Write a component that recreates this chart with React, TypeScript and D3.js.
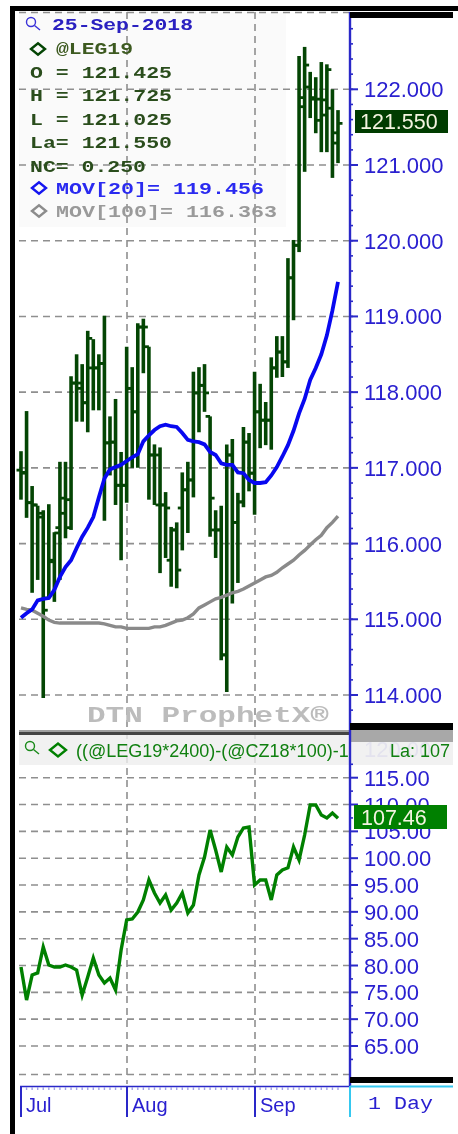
import React from "react";
import * as d3 from "d3";

const opens = [116.97,116.94,116.54,116.51,116.35,115.28,115.76,116.21,116.40,116.58,118.12,118.05,117.86,118.32,118.32,118.38,117.33,117.34,116.77,116.77,118.05,117.74,118.86,118.60,117.17,116.51,116.51,115.78,116.18,116.47,116.71,116.84,117.99,118.09,117.68,116.18,116.18,114.53,117.17,116.28,116.55,117.34,116.93,117.74,117.63,117.63,118.32,118.53,118.40,119.51,119.94,121.77,122.03,121.87,121.59,121.66,121.75,121.425];
const highs = [117.22,117.75,116.76,116.50,116.44,116.52,116.15,117.08,117.08,118.21,118.50,118.37,118.81,118.70,118.50,119.01,117.68,117.91,117.21,118.60,118.33,118.91,118.97,118.60,117.31,117.27,116.68,116.22,116.28,116.94,117.08,118.27,118.33,118.37,117.68,116.44,116.50,117.31,117.38,116.67,117.54,117.46,118.27,118.11,117.87,118.46,118.74,118.74,119.77,120.01,122.44,122.56,122.23,122.16,122.36,122.33,122.00,121.725];
const lows = [116.58,116.34,115.35,115.52,113.96,115.28,115.23,115.52,116.07,116.18,117.61,117.61,117.47,117.76,117.76,116.30,116.90,116.51,115.78,116.54,117.00,117.00,118.25,116.58,116.51,115.61,115.81,115.43,115.41,115.91,116.14,116.61,117.47,117.74,116.09,115.81,114.46,114.04,115.21,115.48,116.48,116.69,116.38,117.26,117.30,117.24,118.19,118.20,118.32,118.95,119.85,120.91,121.62,121.42,121.17,121.17,120.83,121.025];
const closes = [116.93,116.54,116.51,116.40,115.12,115.78,116.14,116.60,116.21,118.12,118.12,117.86,118.71,118.32,118.38,117.33,117.34,116.77,116.77,118.05,117.74,118.86,118.86,117.17,117.17,116.51,116.47,116.18,115.65,116.71,116.84,117.99,118.09,117.99,116.60,116.18,114.53,117.17,116.28,116.55,117.34,116.93,117.74,117.63,117.63,118.32,118.53,118.40,119.51,119.94,121.89,122.32,121.89,121.87,121.86,122.26,121.29,121.55];
const mov20 = [115.02,115.08,115.13,115.25,115.27,115.28,115.39,115.56,115.69,115.78,115.94,116.09,116.21,116.35,116.61,116.86,116.98,117.01,117.04,117.09,117.14,117.18,117.35,117.43,117.50,117.55,117.57,117.55,117.54,117.46,117.37,117.35,117.34,117.31,117.21,117.17,117.06,117.04,117.04,116.94,116.93,116.84,116.80,116.80,116.81,116.90,117.01,117.15,117.30,117.49,117.72,117.91,118.16,118.32,118.50,118.75,119.08,119.456];
const mov100 = [115.15,115.13,115.12,115.08,115.04,114.99,114.96,114.95,114.95,114.95,114.95,114.95,114.95,114.95,114.95,114.94,114.92,114.90,114.90,114.88,114.88,114.88,114.88,114.88,114.90,114.90,114.92,114.95,114.98,114.99,115.02,115.07,115.15,115.19,115.23,115.27,115.29,115.32,115.35,115.37,115.40,115.44,115.48,115.52,115.56,115.58,115.62,115.68,115.73,115.78,115.85,115.91,115.98,116.05,116.11,116.21,116.28,116.363];
const spread = [79.72,73.57,78.23,78.61,83.45,80.10,79.72,79.72,80.10,79.72,79.16,74.50,77.86,81.40,78.23,76.74,77.67,75.43,82.89,88.50,88.67,89.97,92.21,95.94,93.51,91.65,93.14,90.34,91.65,93.51,89.79,91.28,96.87,100.22,105.25,101.53,97.43,102.08,100.60,103.95,105.63,105.81,95.00,95.94,95.94,92.21,96.87,97.80,98.20,102.08,99.66,104.32,109.91,109.91,108.05,107.50,108.42,107.46];

const upperTicks = [114,115,116,117,118,119,120,121,122];
const upperMinor = d3.range(113.8, 123.01, 0.2);
const lowerTicks = [65,70,75,80,85,90,95,100,105,110,115];
const lowerMinor = d3.range(62.5, 120, 5);
const monthLabels = ["Jul", "Aug", "Sep"];
const monthStarts = [0, 19, 42];
const legendRows = ["O = 121.425", "H = 121.725", "L = 121.025", "La= 121.550", "NC= 0.250"];

const SANS = "'Liberation Sans', Arial, sans-serif";
const MONO = "'Liberation Mono', monospace";
const BLUE = "#2a20d0";
const DARK = "#044504";

function Mono({ x, y, w, size = 17, fill, weight = 700, children }: any) {
  return (
    <text x={x} y={y} fontFamily={MONO} fontSize={size} fontWeight={weight} fill={fill} textLength={w} lengthAdjust="spacingAndGlyphs">
      {children}
    </text>
  );
}

function Diamond({ cx, cy, color, r = 7 }: any) {
  return <path d={`M${cx - r},${cy}L${cx},${cy - r * 0.8}L${cx + r},${cy}L${cx},${cy + r * 0.8}Z`} fill="none" stroke={color} strokeWidth={2.4} />;
}

function Lens({ x, y, color }: any) {
  return (
    <g fill="none" stroke={color} strokeWidth={1.4}>
      <circle cx={x} cy={y} r={4.5} />
      <line x1={x + 3.5} y1={y + 3.5} x2={x + 9} y2={y + 8} />
    </g>
  );
}

export default function App() {
  const x = d3.scaleLinear().domain([0, 57]).range([21, 338]);
  const yP = d3.scaleLinear().domain([114, 122]).range([695, 89.3]);
  const yL = d3.scaleLinear().domain([65, 115]).range([1046, 777.7]);
  const lineP = (vals: number[]) => d3.line<number>().x((_, i) => x(i)).y((d) => yP(d))(vals) as string;
  const lineL = d3.line<number>().x((_, i) => x(i)).y((d) => yL(d))(spread) as string;
  const plotL = 19, plotR = 350;

  return (
    <svg width={458} height={1134} style={{ position: "absolute", left: 0, top: 0, display: "block" }}>
      <rect width={458} height={1134} fill="#fff" />
      <g style={{ filter: "blur(0.5px)" }}>
        <rect x={19} y={12} width={267} height={215} fill="#fafafa" />
        {/* grid */}
        <g stroke="#8f8f8f" strokeWidth={1.6} strokeDasharray="7 5" fill="none">
          <line x1={plotL} x2={plotR} y1={12.5} y2={12.5} />
          {upperTicks.map((t) => <line key={t} x1={plotL} x2={plotR} y1={yP(t)} y2={yP(t)} />)}
          {lowerTicks.filter((t) => t < 120).map((t) => <line key={t} x1={plotL} x2={plotR} y1={yL(t)} y2={yL(t)} />)}
          <line x1={plotL} x2={plotR} y1={1074.5} y2={1074.5} />
          {monthStarts.slice(1).map((m) => <line key={m} x1={Math.round(x(m))} x2={Math.round(x(m))} y1={12} y2={1084} />)}
        </g>

        {/* legend */}
        <Lens x={31} y={22} color="#3a32d8" />
        <Mono x={52} y={30} w={141} fill="#2a20c0">25-Sep-2018</Mono>
        <Diamond cx={38} cy={49} color={DARK} />
        <Mono x={56} y={54} w={77} fill="#3d5a20">@LEG19</Mono>
        {legendRows.map((r, i) => (
          <Mono key={r} x={30} y={78 + i * 23.4} w={r.length === 9 ? 116 : 142} fill="#2a4d1c">{r}</Mono>
        ))}
        <Diamond cx={39} cy={188} color="#1414f0" />
        <Mono x={56} y={194} w={208} fill="#2a2af0">MOV[20]= 119.456</Mono>
        <Diamond cx={39} cy={211} color="#8c8c8c" />
        <Mono x={56} y={217} w={221} fill="#9a9a9a">MOV[100]= 116.363</Mono>

        {/* watermark */}
        <Mono x={87} y={722} w={242} size={22} fill="#bcbcbc">DTN ProphetX®</Mono>

        {/* OHLC bars */}
        <g stroke={DARK} strokeWidth={3.6} fill="none">
          {highs.map((h, i) => (
            <g key={i}>
              <line x1={x(i)} x2={x(i)} y1={yP(h)} y2={yP(lows[i])} />
              <line x1={x(i) - 4.5} x2={x(i)} y1={yP(opens[i])} y2={yP(opens[i])} strokeWidth={2.8} />
              <line x1={x(i)} x2={x(i) + 4.5} y1={yP(closes[i])} y2={yP(closes[i])} strokeWidth={2.8} />
            </g>
          ))}
        </g>
        <path d={lineP(mov100)} fill="none" stroke="#8a8a8a" strokeWidth={3.4} />
        <path d={lineP(mov20)} fill="none" stroke="#0808f0" strokeWidth={3.8} />

        {/* lower header */}
        <text x={364} y={757} fontFamily={SANS} fontSize={22} fill="#b9b6ee">120.00</text>
        <rect x={19} y={735} width={434} height={30} fill="#eeeeee" fillOpacity={0.8} />
        <rect x={350} y={730} width={103} height={12} fill="#a8a8a8" />
        <rect x={19} y={730} width={331} height={2} fill="#a0a0a0" />
        <rect x={19} y={732} width={331} height={3} fill="#444" />
        <Lens x={30} y={746} color="#1a8a1a" />
        <Diamond cx={58} cy={750} color="#008000" r={8} />
        <text x={76} y={757} fontFamily={SANS} fontSize={18} fill="#108010">((@LEG19*2400)-(@CZ18*100)-1</text>
        <text x={390} y={757} fontFamily={SANS} fontSize={18} fill="#108010">La: 107</text>

        <path d={lineL} fill="none" stroke="#008000" strokeWidth={3.4} />

        {/* right axis */}
        <line x1={350} x2={350} y1={12} y2={1086} stroke="#2a28c8" strokeWidth={2.4} />
        <g stroke="#2a28c8" strokeWidth={1.6}>
          {upperMinor.map((t) => <line key={t} x1={350} x2={353} y1={yP(t)} y2={yP(t)} />)}
          {upperTicks.map((t) => <line key={t} x1={350} x2={358} y1={yP(t)} y2={yP(t)} strokeWidth={2} />)}
          {lowerMinor.map((t) => <line key={t} x1={350} x2={353} y1={yL(t)} y2={yL(t)} />)}
          {lowerTicks.map((t) => <line key={t} x1={350} x2={358} y1={yL(t)} y2={yL(t)} strokeWidth={2} />)}
        </g>
        {upperTicks.map((t) => (
          <text key={t} x={364} y={yP(t) + 8} fontFamily={SANS} fontSize={22} fill={BLUE}>{d3.format(".3f")(t)}</text>
        ))}
        {lowerTicks.map((t) => (
          <text key={t} x={364} y={yL(t) + 8} fontFamily={SANS} fontSize={22} fill={BLUE}>{d3.format(".2f")(t)}</text>
        ))}

        {/* price tags */}
        <rect x={355} y={110} width={93} height={23} fill="#003c00" />
        <text x={360} y={129} fontFamily={SANS} fontSize={21.5} fill="#f4f4e0">121.550</text>
        <rect x={354} y={805} width={93} height={24} fill="#008000" />
        <text x={361} y={825} fontFamily={SANS} fontSize={21.5} fill="#f4f4e0">107.46</text>

        {/* black frame pieces */}
        <rect x={350} y={12} width={103} height={6} fill="#000" />
        <rect x={350} y={723} width={103} height={7} fill="#000" />
        <rect x={350} y={1077} width={103} height={6} fill="#000" />

        {/* time axis */}
        <line x1={20} x2={350} y1={1086.5} y2={1086.5} stroke="#2a28c8" strokeWidth={1.6} />
        <line x1={350} x2={453} y1={1086.5} y2={1086.5} stroke="#35c8f0" strokeWidth={2} />
        <line x1={350} x2={350} y1={1086} y2={1117} stroke="#35c8f0" strokeWidth={2} />
        <g stroke="#a0a0e8" strokeWidth={1.4}>
          {d3.range(0, 58).map((i) => <line key={i} x1={x(i)} x2={x(i)} y1={1087} y2={1090} />)}
        </g>
        {monthStarts.map((m, i) => (
          <g key={m}>
            <line x1={Math.round(x(m))} x2={Math.round(x(m))} y1={1086} y2={1117} stroke="#2a28c8" strokeWidth={2} />
            <text x={Math.round(x(m)) + 5} y={1112} fontFamily={SANS} fontSize={20} fill={BLUE}>{monthLabels[i]}</text>
          </g>
        ))}
        <Mono x={368} y={1109} w={65} size={18} fill={BLUE} weight={400}>1 Day</Mono>
      </g>

      {/* outer frame */}
      <rect x={10} y={6} width={448} height={5} fill="#000" />
      <rect x={10} y={6} width={5} height={1128} fill="#000" />
    </svg>
  );
}
